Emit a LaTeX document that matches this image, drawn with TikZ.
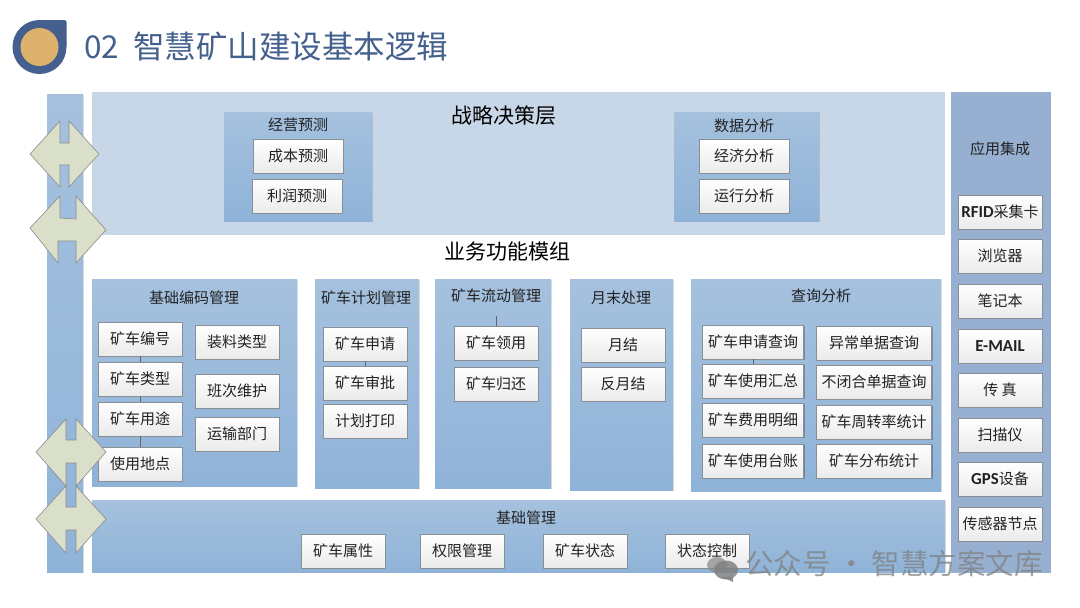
\documentclass[tikz,border=0pt]{standalone}
\usepackage{fontspec}
\setmainfont{Noto Sans CJK SC}
\newfontfamily\latinb{Carlito}[Scale=1.12]
\usetikzlibrary{shadows}
\definecolor{panelTop}{HTML}{A5C1DE}
\definecolor{panelBot}{HTML}{8FB3D8}
\definecolor{lightpanel}{HTML}{C8D7E8}
\definecolor{rightpanel}{HTML}{97B0D1}
\definecolor{arrowfill}{HTML}{D9DFC9}
\definecolor{titleblue}{HTML}{44608C}
\definecolor{logoblue}{HTML}{455F8E}
\definecolor{logogold}{HTML}{DDB26D}
\definecolor{boxline}{HTML}{8A8F96}
\definecolor{txt}{HTML}{222222}
\tikzset{
  x=1pt,y=-1pt,
  panel/.style={draw=none,top color=panelTop,bottom color=panelBot,rectangle,inner sep=0pt,drop shadow={shadow xshift=1pt,shadow yshift=-1pt,fill=black,opacity=.12}},
  itembox/.style={draw=boxline,line width=0.7pt,top color=white,bottom color=black!8,rectangle,inner sep=0pt,minimum width=#1,minimum height=34pt,font=\fontsize{15}{17}\selectfont,text=txt,drop shadow={shadow xshift=1pt,shadow yshift=-1pt,fill=black,opacity=.25}},
  itembox/.default=84pt,
  head/.style={font=\fontsize{15}{17}\selectfont,text=txt,inner sep=0pt},
  bighead/.style={font=\fontsize{21}{23}\selectfont,text=black,inner sep=0pt},
  dblarrow/.style={draw=black!45,line width=0.6pt,fill=arrowfill},
  link/.style={draw=black!60,line width=0.7pt},
}
\begin{document}
\begin{tikzpicture}
\useasboundingbox (0,0) rectangle (1080,608);
\fill[white] (0,0) rectangle (1080,608);
% logo
\fill[logoblue] (39.5,47) circle[radius=27];
\fill[logoblue,rounded corners=1.5pt] (39.5,20) rectangle (66.5,47);
\node[circle,fill=logogold,minimum size=38pt,inner sep=0pt] (logo) at (39.5,47) {};
\node[anchor=west,inner sep=0pt,text=titleblue,font=\fontsize{31.5}{34}\selectfont] (title) at (84,46) {02\ \ 智慧矿山建设基本逻辑};
% left bar
\node[panel,minimum width=36pt,minimum height=478pt,anchor=north west] (leftbar) at (47,94) {};
% top
\node[rectangle,fill=lightpanel,draw=none,minimum width=853pt,minimum height=143pt,anchor=north west] (strategy) at (92,92) {};
\node[bighead] (stratT) at (504,116) {战略决策层};
\node[panel,minimum width=148pt,minimum height=109pt,anchor=north west] (p1) at (224,112) {};
\node[head] (p1T) at (298,125) {经营预测};
\node[itembox=90pt] (a1) at (298,156) {成本预测};
\node[itembox=90pt] (a2) at (297,196) {利润预测};
\node[panel,minimum width=145pt,minimum height=109pt,anchor=north west] (p2) at (674,112) {};
\node[head] (p2T) at (744,126) {数据分析};
\node[itembox=90pt] (b1) at (744,156) {经济分析};
\node[itembox=90pt] (b2) at (744,196) {运行分析};
\node[bighead] (bizT) at (507,252) {业务功能模组};
% base code
\node[panel,minimum width=205pt,minimum height=207pt,anchor=north west] (c0) at (92,279) {};
\node[head] (c0T) at (194,298) {基础编码管理};
\node[itembox] (c1) at (140,339) {矿车编号};
\node[itembox] (c2) at (140,379) {矿车类型};
\node[itembox] (c3) at (140,419) {矿车用途};
\node[itembox] (c4) at (140,464) {使用地点};
\draw[link] (c1) -- (c2);
\draw[link] (c2) -- (c3);
\draw[link] (c3) -- (c4);
\node[itembox] (c5) at (237,342) {装料类型};
\node[itembox] (c6) at (237,391) {班次维护};
\node[itembox] (c7) at (237,434) {运输部门};
% plan
\node[panel,minimum width=104pt,minimum height=209pt,anchor=north west] (d0) at (315,279) {};
\node[head] (d0T) at (366,298) {矿车计划管理};
\node[itembox] (d1) at (365,344) {矿车申请};
\node[itembox] (d2) at (365,383) {矿车审批};
\node[itembox] (d3) at (365,421) {计划打印};
\draw[link] (d1) -- (d2);
% flow
\node[panel,minimum width=116pt,minimum height=209pt,anchor=north west] (e0) at (435,279) {};
\node[head] (e0T) at (496,296) {矿车流动管理};
\node[itembox] (e1) at (496,343) {矿车领用};
\node[itembox] (e2) at (496,384) {矿车归还};
\coordinate (e1up) at (496,316);
\draw[link] (e1up) -- (e1);
% month
\node[panel,minimum width=103pt,minimum height=211pt,anchor=north west] (f0) at (570,279) {};
\node[head] (f0T) at (621,298) {月末处理};
\node[itembox] (f1) at (623,345) {月结};
\node[itembox] (f2) at (623,384) {反月结};
% query
\node[panel,minimum width=250pt,minimum height=212pt,anchor=north west] (g0) at (691,279) {};
\node[head] (g0T) at (821,296) {查询分析};
\node[itembox=101pt] (g1) at (753,342) {矿车申请查询};
\node[itembox=101pt] (g2) at (753,381) {矿车使用汇总};
\node[itembox=101pt] (g3) at (753,420) {矿车费用明细};
\node[itembox=101pt] (g4) at (753,461) {矿车使用台账};
\draw[link] (g1) -- (g2);
\node[itembox=115pt] (h1) at (874,343) {异常单据查询};
\node[itembox=115pt] (h2) at (874,382) {不闭合单据查询};
\node[itembox=115pt] (h3) at (874,422) {矿车周转率统计};
\node[itembox=115pt] (h4) at (874,461) {矿车分布统计};
% base
\node[panel,minimum width=853pt,minimum height=72pt,anchor=north west] (base) at (92,500) {};
\node[head] (baseT) at (526,518) {基础管理};
\node[itembox] (i1) at (343,551) {矿车属性};
\node[itembox] (i2) at (462,551) {权限管理};
\node[itembox] (i3) at (585,551) {矿车状态};
\node[itembox] (i4) at (707,551) {状态控制};
% right
\node[rectangle,fill=rightpanel,draw=none,minimum width=100pt,minimum height=481pt,anchor=north west] (r0) at (951,92) {};
\node[head] (r0T) at (1000,149) {应用集成};
\node[itembox] (r1) at (1000,212) {{\latinb\bfseries RFID}采集卡};
\node[itembox] (r2) at (1000,256) {浏览器};
\node[itembox] (r3) at (1000,301) {笔记本};
\node[itembox] (r4) at (1000,346) {{\latinb\bfseries E-MAIL}};
\node[itembox] (r5) at (1000,390) {传\ 真};
\node[itembox] (r6) at (1000,435) {扫描仪};
\node[itembox] (r7) at (1000,479) {{\latinb\bfseries GPS}设备};
\node[itembox] (r8) at (1000,524) {传感器节点};
% arrows
\draw[dblarrow] (30,154) -- (60,121) -- (60,143) -- (69,143) -- (69,121) -- (99,154) -- (69,187) -- (69,165) -- (60,165) -- (60,187) -- cycle;
\draw[dblarrow] (30,228) -- (60,196) -- (60,218) -- (76,219) -- (76,196) -- (106,230) -- (76,263) -- (76,241) -- (58,241) -- (58,263) -- cycle;
\draw[dblarrow] (36,452) -- (66,419) -- (66,440) -- (76,440) -- (76,419) -- (106,452) -- (76,486) -- (76,463) -- (66,463) -- (66,486) -- cycle;
\draw[dblarrow] (36,519) -- (66,486) -- (66,507) -- (76,507) -- (76,486) -- (106,519) -- (76,553) -- (76,530) -- (66,530) -- (66,553) -- cycle;
% watermark
\fill[black!45,opacity=.75] (717,565) ellipse[x radius=10,y radius=8];
\fill[black!50,opacity=.85] (726,570) ellipse[x radius=12,y radius=9.5];
\fill[black!50,opacity=.85] (722,577) -- (733,577) -- (733,582) -- cycle;
\node[anchor=west,inner sep=0pt,text=black!50,opacity=.75,font=\fontsize{28.5}{30}\selectfont] (wm) at (745,564) {公众号 · 智慧方案文库};
\end{tikzpicture}
\end{document}
